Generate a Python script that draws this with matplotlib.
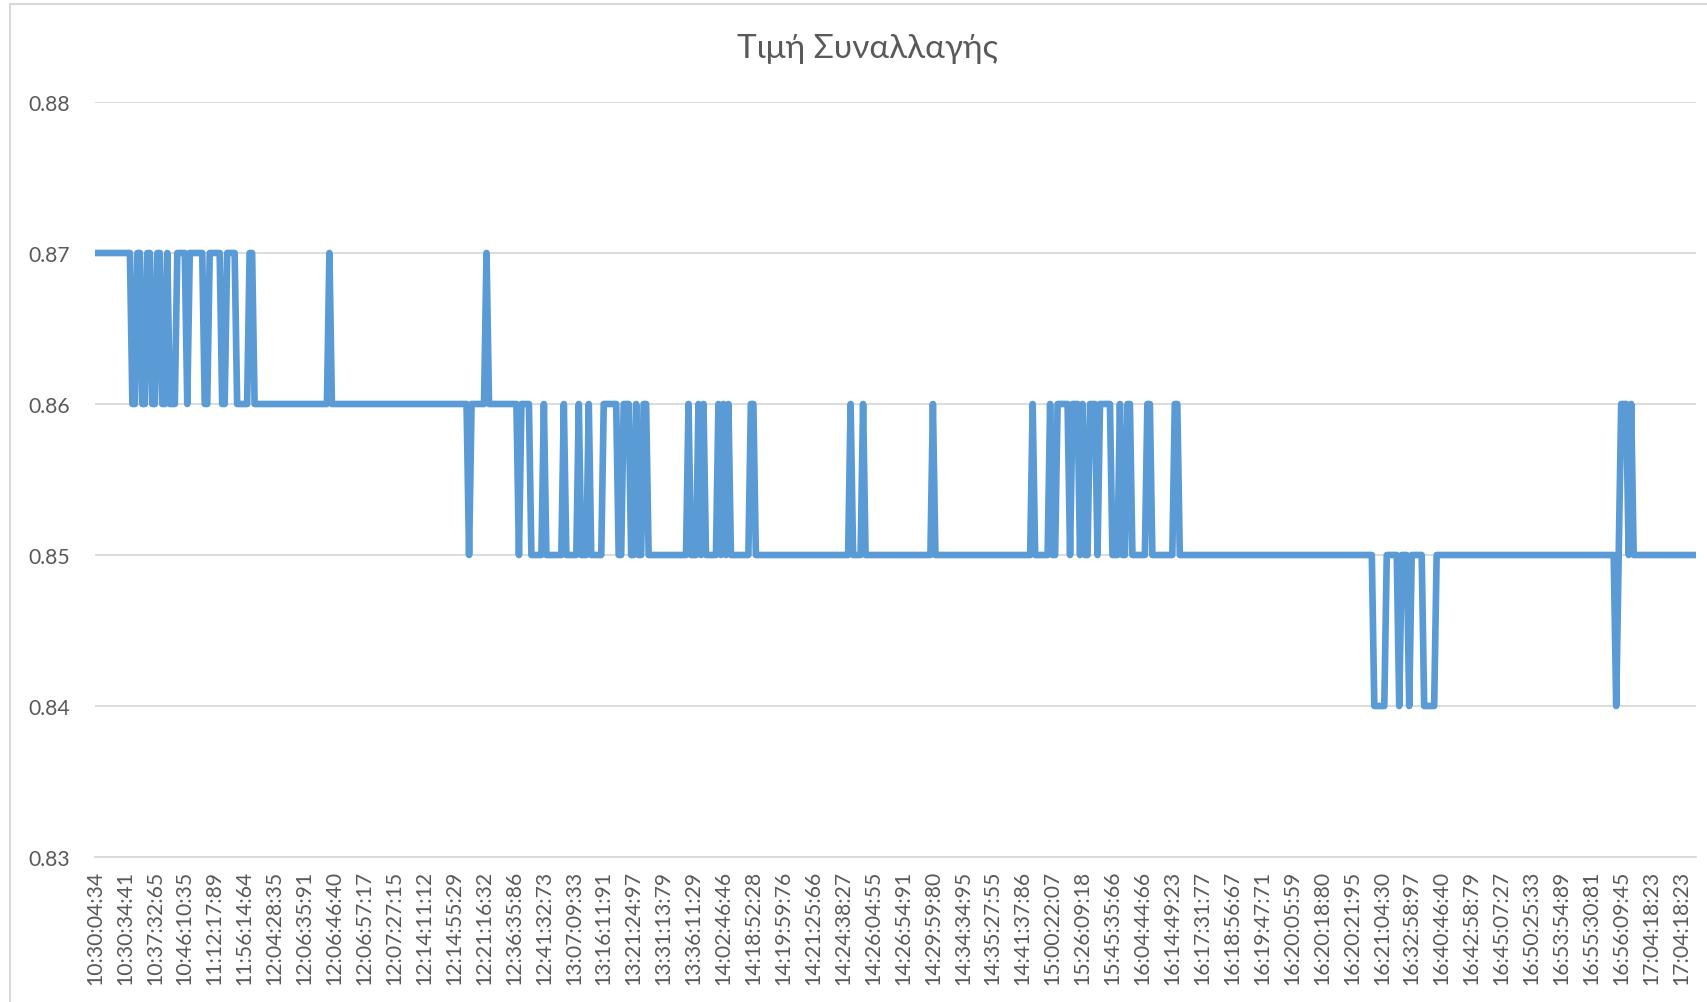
import numpy as np
import matplotlib
matplotlib.use("Agg")
import matplotlib.pyplot as plt
from matplotlib.patches import Rectangle

# run-length encoded trade prices (price, number of consecutive trades)
run_prices = [
    0.87, 0.86, 0.87, 0.86, 0.87, 0.86, 0.87, 0.86, 0.87, 0.86,
    0.87, 0.86, 0.87, 0.86, 0.87, 0.86, 0.87, 0.86, 0.87, 0.86,
    0.87, 0.86, 0.85, 0.86, 0.87, 0.86, 0.85, 0.86, 0.85, 0.86,
    0.85, 0.86, 0.85, 0.86, 0.85, 0.86, 0.85, 0.86, 0.85, 0.86,
    0.85, 0.86, 0.85, 0.86, 0.85, 0.86, 0.85, 0.86, 0.85, 0.86,
    0.85, 0.86, 0.85, 0.86, 0.85, 0.86, 0.85, 0.86, 0.85, 0.86,
    0.85, 0.86, 0.85, 0.86, 0.85, 0.86, 0.85, 0.86, 0.85, 0.86,
    0.85, 0.86, 0.85, 0.86, 0.85, 0.86, 0.85, 0.86, 0.85, 0.86,
    0.85, 0.86, 0.85, 0.86, 0.85, 0.86, 0.85, 0.84, 0.85, 0.84,
    0.85, 0.84, 0.85, 0.84, 0.85, 0.84, 0.85, 0.86, 0.85, 0.86,
    0.85,
]
run_counts = [
    15, 2, 2, 2, 2, 2, 2, 2, 1, 3,
    4, 1, 6, 2, 5, 2, 4, 5, 2, 30,
    1, 55, 1, 6, 1, 12, 1, 4, 5, 1,
    7, 1, 5, 1, 3, 1, 5, 6, 2, 3,
    2, 1, 2, 2, 16, 1, 3, 1, 1, 1,
    5, 1, 1, 1, 1, 1, 8, 2, 38, 1,
    4, 1, 27, 1, 39, 1, 6, 1, 2, 5,
    1, 3, 1, 1, 2, 3, 1, 5, 3, 1,
    2, 2, 6, 2, 9, 2, 78, 5, 5, 1,
    3, 1, 5, 5, 72, 1, 1, 3, 1, 1,
    26,
]

# category labels shown on the axis (every 12th trade)
tick_labels = [
    "10:30:04:34", "10:30:34:41", "10:37:32:65", "10:46:10:35", "11:12:17:89",
    "11:56:14:64", "12:04:28:35", "12:06:35:91", "12:06:46:40", "12:06:57:17",
    "12:07:27:15", "12:14:11:12", "12:14:55:29", "12:21:16:32", "12:36:35:86",
    "12:41:32:73", "13:07:09:33", "13:16:11:91", "13:21:24:97", "13:31:13:79",
    "13:36:11:29", "14:02:46:46", "14:18:52:28", "14:19:59:76", "14:21:25:66",
    "14:24:38:27", "14:26:04:55", "14:26:54:91", "14:29:59:80", "14:34:34:95",
    "14:35:27:55", "14:41:37:86", "15:00:22:07", "15:26:09:18", "15:45:35:66",
    "16:04:44:66", "16:14:49:23", "16:17:31:77", "16:18:56:67", "16:19:47:71",
    "16:20:05:59", "16:20:18:80", "16:20:21:95", "16:21:04:30", "16:32:58:97",
    "16:40:46:40", "16:42:58:79", "16:45:07:27", "16:50:25:33", "16:53:54:89",
    "16:55:30:81", "16:56:09:45", "17:04:18:23", "17:04:18:23",
]
label_step = 12
y_ticks = [0.83, 0.84, 0.85, 0.86, 0.87, 0.88]

prices = np.repeat(run_prices, run_counts)
x = np.arange(len(prices))

plt.rcParams["font.family"] = ["Lato", "DejaVu Sans"]
txt = "#595959"
grid_c = "#d9d9d9"

fig = plt.figure(figsize=(17.08, 10.03), dpi=100)
ax = fig.add_axes([95/1708, 1 - 858/1003, (1696 - 95)/1708, (858 - 103)/1003])

ax.plot(x, prices, color="#5b9bd5", lw=4.8, solid_joinstyle="round",
        solid_capstyle="round", zorder=3)

ax.set_xlim(0, len(prices) - 1)
ax.set_ylim(0.83, 0.88)
ax.set_yticks(y_ticks)
ax.set_yticklabels([f"{v:.2f}" for v in y_ticks])
ax.set_xticks(np.arange(0, label_step * len(tick_labels), label_step))
ax.set_xticklabels(tick_labels, rotation=90)

ax.grid(axis="y", color=grid_c, lw=1.3)
ax.set_axisbelow(True)
for s in ["top", "right", "left"]:
    ax.spines[s].set_visible(False)
ax.spines["bottom"].set_color(grid_c)
ax.spines["bottom"].set_linewidth(1.3)
ax.tick_params(axis="both", length=0, labelsize=15.2, colors=txt)
ax.tick_params(axis="y", pad=18)
ax.tick_params(axis="x", pad=9)

fig.text(868/1708, 1 - 49/1003, "Τιμή Συναλλαγής", ha="center", va="center",
         fontsize=24, color=txt)

# chart area border
fig.patches.append(Rectangle((10/1708, -0.01), 1.0, 1 - 5/1003 + 0.01,
                             transform=fig.transFigure, fill=False,
                             edgecolor=grid_c, lw=1.5))

fig.savefig("out.png", dpi=100, facecolor="white")
